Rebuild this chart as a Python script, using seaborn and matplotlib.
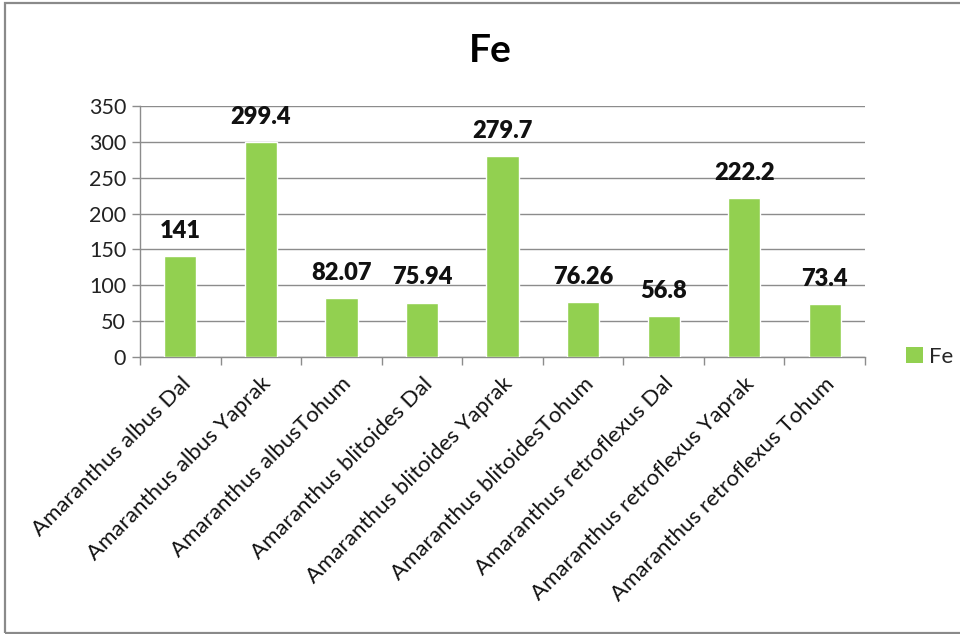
import matplotlib
matplotlib.use("Agg")
import matplotlib.pyplot as plt
from matplotlib.patches import Rectangle, Patch
from matplotlib.ticker import FixedLocator
import seaborn as sns
import pandas as pd

categories = [
    "Amaranthus albus Dal",
    "Amaranthus albus Yaprak",
    "Amaranthus albusTohum",
    "Amaranthus blitoides Dal",
    "Amaranthus blitoides Yaprak",
    "Amaranthus blitoidesTohum",
    "Amaranthus retroflexus Dal",
    "Amaranthus retroflexus Yaprak",
    "Amaranthus retroflexus Tohum",
]
fe_values = [141, 299.4, 82.07, 75.94, 279.7, 76.26, 56.8, 222.2, 73.4]
value_labels = ["141", "299.4", "82.07", "75.94", "279.7", "76.26", "56.8", "222.2", "73.4"]
y_ticks = [0, 50, 100, 150, 200, 250, 300, 350]

df = pd.DataFrame({"sample": categories, "Fe": fe_values})

sns.set_theme(style="white")
plt.rcParams["font.family"] = ["Lato", "DejaVu Sans"]

bar_color = "#92D050"
grid_color = "#8C8C8C"

fig = plt.figure(figsize=(9.6, 6.34), dpi=100)
ax = fig.add_axes([140 / 960, 1 - 357 / 634, (865 - 140) / 960, (357 - 106) / 634])

sns.barplot(data=df, x="sample", y="Fe", color=bar_color, width=0.4,
            saturation=1, ax=ax, zorder=3)

ax.set_ylim(0, 350)
ax.set_xlim(-0.5, len(categories) - 0.5)
ax.set_yticks(y_ticks)
ax.set_yticklabels([str(v) for v in y_ticks], fontsize=15.5, color="#222222")
ax.yaxis.grid(True, color=grid_color, linewidth=1.0, zorder=0)
ax.set_axisbelow(True)
ax.set_xlabel("")
ax.set_ylabel("")

for side in ["top", "right"]:
    ax.spines[side].set_visible(False)
for side in ["left", "bottom"]:
    ax.spines[side].set_color(grid_color)
    ax.spines[side].set_linewidth(1.0)

ax.tick_params(axis="y", which="major", left=True, length=6, width=1.0,
               color=grid_color, pad=4)

# category labels, tick marks between categories
ax.set_xticks(range(len(categories)))
ax.set_xticklabels(categories, rotation=45, ha="right", rotation_mode="anchor",
                   fontsize=16, color="#111111")
ax.tick_params(axis="x", which="major", bottom=False, length=0, pad=12)
ax.xaxis.set_minor_locator(FixedLocator([i - 0.5 for i in range(len(categories) + 1)]))
ax.tick_params(axis="x", which="minor", bottom=True, length=6, width=1.0, color=grid_color)

for i, (v, lab) in enumerate(zip(fe_values, value_labels)):
    ax.annotate(lab, xy=(i, v), xytext=(0, 13), textcoords="offset points",
                ha="center", va="baseline", fontsize=17, fontweight="heavy",
                color="#111111")

fig.text(490 / 960, 1 - 50 / 634, "Fe", ha="center", va="center",
         fontsize=28, fontweight="bold", color="#000000")

handle = Patch(facecolor=bar_color, edgecolor="none", label="Fe")
fig.legend(handles=[handle], loc="center left",
           bbox_to_anchor=(897 / 960, 1 - 357 / 634), frameon=False,
           fontsize=16, handlelength=0.75, handleheight=0.75, handletextpad=0.3,
           borderaxespad=0)

# outer chart frame
fig.patches.append(Rectangle((5 / 960, 1.5 / 634), 1.2, 1 - 4 / 634,
                             transform=fig.transFigure, fill=False,
                             edgecolor="#8A8A8A", linewidth=1.6))

fig.savefig("out.png", dpi=100)
